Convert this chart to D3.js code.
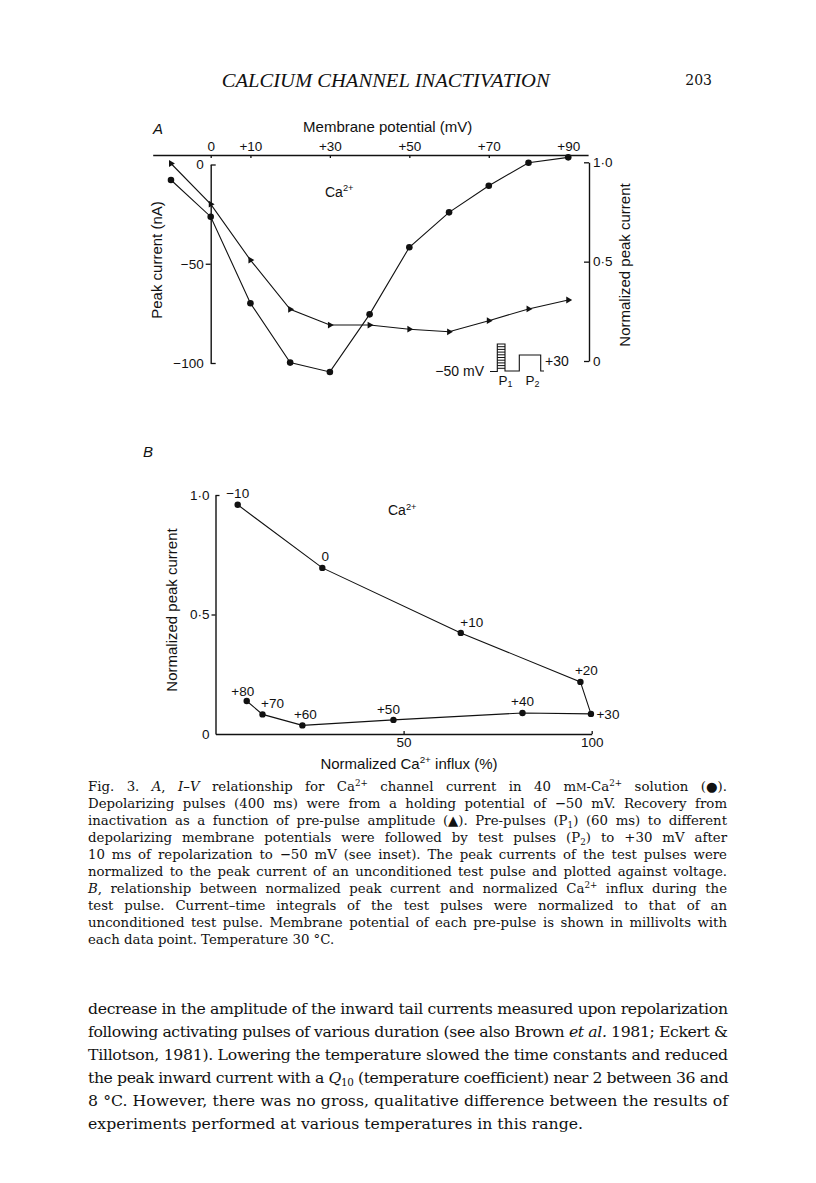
<!DOCTYPE html>
<html><head><meta charset="utf-8">
<script src="https://cdn.jsdelivr.net/npm/d3@7"></script>
<style>
html,body{margin:0;padding:0;background:#fff;}
svg{display:block;}
</style></head><body>
<script>
// ---------- Panel A data ----------
const potentials   = [-10, 0, 10, 20, 30, 40, 50, 60, 70, 80, 90];          // mV
const peakCurrent  = [-7.8, -26.3, -69.9, -99.8, -104.5, -75.5, -41.7, -24.1, -10.7, 0.9, 3.6]; // nA (circles)
const normRecovery = [0.994, 0.789, 0.508, 0.260, 0.181, 0.181, 0.160, 0.147, 0.203, 0.262, 0.307]; // triangles
const xTicksA      = [0, 10, 30, 50, 70, 90];
const yTicksLeftA  = [0, -50, -100];
const yTicksRightA = [0, 0.5, 1];
// ---------- Panel B data ----------
const prePulseLabels = ["−10", "0", "+10", "+20", "+30", "+40", "+50", "+60", "+70", "+80"];
const influxB        = [5.9, 28.4, 65.2, 97.0, 99.8, 81.6, 47.3, 23.1, 12.5, 8.3];
const normCurrentB   = [0.959, 0.695, 0.423, 0.218, 0.084, 0.088, 0.059, 0.036, 0.082, 0.138];
const xTicksB        = [50, 100];
const yTicksB        = [0, 0.5, 1];
// ---------- Text ----------
const captionLines = [
  "Fig. 3. <i>A</i>, <i>I–V</i> relationship for Ca<sup>2+</sup> channel current in 40 m<sc>M</sc>-Ca<sup>2+</sup> solution (●).",
  "Depolarizing pulses (400 ms) were from a holding potential of −50 mV. Recovery from",
  "inactivation as a function of pre-pulse amplitude (▲). Pre-pulses (P<sub>1</sub>) (60 ms) to different",
  "depolarizing membrane potentials were followed by test pulses (P<sub>2</sub>) to +30 mV after",
  "10 ms of repolarization to −50 mV (see inset). The peak currents of the test pulses were",
  "normalized to the peak current of an unconditioned test pulse and plotted against voltage.",
  "<i>B</i>, relationship between normalized peak current and normalized Ca<sup>2+</sup> influx during the",
  "test pulse. Current–time integrals of the test pulses were normalized to that of an",
  "unconditioned test pulse. Membrane potential of each pre-pulse is shown in millivolts with",
  "each data point. Temperature 30 °C."
];
const bodyLines = [
  "decrease in the amplitude of the inward tail currents measured upon repolarization",
  "following activating pulses of various duration (see also Brown <i>et al.</i> 1981; Eckert &amp;",
  "Tillotson, 1981). Lowering the temperature slowed the time constants and reduced",
  "the peak inward current with a <i>Q</i><sub>10</sub> (temperature coefficient) near 2 between 36 and",
  "8 °C. However, there was no gross, qualitative difference between the results of",
  "experiments performed at various temperatures in this range."
];

const SANS = "'Liberation Sans', Arial, sans-serif";
const SERIF = "'DejaVu Serif', serif";
const INK = "#111";

const svg = d3.select("body").append("svg").attr("width", 816).attr("height", 1183)
  .style("font-family", SANS).style("fill", INK);

function rich(textSel, str, fs) {
  const re = /<(i|sup|sub|sc)>(.*?)<\/\1>/g;
  const segs = []; let last = 0, m;
  while ((m = re.exec(str)) !== null) {
    if (m.index > last) segs.push({t: str.slice(last, m.index), type: ""});
    segs.push({t: m[2], type: m[1]});
    last = re.lastIndex;
  }
  if (last < str.length) segs.push({t: str.slice(last), type: ""});
  let shift = 0;
  segs.forEach(s => {
    const t = s.t.replace(/&amp;/g, "&");
    const ts = textSel.append("tspan").text(t);
    const target = s.type === "sup" ? -0.36 * fs : s.type === "sub" ? 0.22 * fs : 0;
    if (target !== shift) { ts.attr("dy", target - shift); shift = target; }
    if (s.type === "i") ts.style("font-style", "italic");
    if (s.type === "sup" || s.type === "sub") ts.style("font-size", (0.66 * fs) + "px");
    if (s.type === "sc") ts.style("font-size", (0.78 * fs) + "px");
  });
}

// ---------- Header ----------
svg.append("text").attr("x", 221.7).attr("y", 86.5)
  .attr("textLength", 328).attr("lengthAdjust", "spacingAndGlyphs")
  .style("font-family", "'Liberation Serif', serif").style("font-style", "italic").style("font-size", "18px")
  .text("CALCIUM CHANNEL INACTIVATION");
svg.append("text").attr("x", 712).attr("y", 85).attr("text-anchor", "end")
  .style("font-family", SERIF).style("font-size", "14px").text("203");

// ---------- Panel A ----------
const gA = svg.append("g");
const xA  = d3.scaleLinear().domain([-14.6, 95]).range([152.7, 588.1]);
const yA  = d3.scaleLinear().domain([0, -100]).range([164.5, 363]);
const yAR = d3.scaleLinear().domain([0, 1]).range([361, 162.3]);
const fmtSign = d => d > 0 ? "+" + d : String(d).replace("-", "−");
const fmtDot = d => d === 0 ? "0" : d.toFixed(1).replace(".", "·");

gA.append("text").attr("x", 153).attr("y", 133.5)
  .style("font-style", "italic").style("font-size", "15px").text("A");

gA.append("g").attr("transform", "translate(0,155)")
  .call(d3.axisTop(xA).tickValues(xTicksA).tickSizeInner(-3).tickSizeOuter(0).tickPadding(4).tickFormat(fmtSign));
gA.append("text").attr("x", 387.7).attr("y", 131.5).attr("text-anchor", "middle")
  .style("font-size", "15px").text("Membrane potential (mV)");

const axL = gA.append("g").attr("transform", `translate(${xA(0)},0)`)
  .call(d3.axisLeft(yA).tickValues(yTicksLeftA).tickSize(5).tickSizeOuter(0).tickPadding(2).tickFormat(fmtSign));
axL.selectAll(".tick line").filter(d => d !== -50).attr("x2", 5);

gA.append("g").attr("transform", "translate(589,0)")
  .call(d3.axisRight(yAR).tickValues(yTicksRightA).tickSizeInner(-5).tickSizeOuter(0).tickPadding(4).tickFormat(fmtDot));

gA.append("text").attr("transform", "translate(162,260) rotate(-90)").attr("text-anchor", "middle")
  .style("font-size", "15px").text("Peak current (nA)");
gA.append("text").attr("transform", "translate(630,265) rotate(-90)").attr("text-anchor", "middle")
  .style("font-size", "15px").text("Normalized peak current");

const caA = gA.append("text").attr("x", 325).attr("y", 196.5).style("font-size", "14px");
rich(caA, "Ca<sup>2+</sup>", 14);

const lineIV = d3.line().x((d, i) => xA(potentials[i])).y(d => yA(d));
gA.append("path").datum(peakCurrent).attr("d", lineIV).attr("fill", "none").attr("stroke", INK).attr("stroke-width", 1.1);
const lineRec = d3.line().x((d, i) => xA(potentials[i])).y(d => yAR(d));
gA.append("path").datum(normRecovery).attr("d", lineRec).attr("fill", "none").attr("stroke", INK).attr("stroke-width", 1.1);

gA.selectAll("circle.iv").data(peakCurrent).join("circle").attr("class", "iv")
  .attr("cx", (d, i) => xA(potentials[i])).attr("cy", d => yA(d)).attr("r", 3.3).attr("fill", INK);
const tri = d3.symbol().type(d3.symbolTriangle).size(20);
gA.selectAll("path.tri").data(normRecovery).join("path").attr("class", "tri")
  .attr("d", tri).attr("fill", INK)
  .attr("transform", (d, i) => `translate(${xA(potentials[i])},${yAR(d)}) rotate(90)`);

// inset (pulse protocol schematic)
const inset = gA.append("g").attr("transform", "translate(490,371.5)");
inset.append("path").attr("fill", "none").attr("stroke", INK).attr("stroke-width", 1.1)
  .attr("d", "M0,0H7.3V-27.5H15V-0.5H29.3V-16.5H50.7V-0.5H54");
inset.selectAll("line.st").data(d3.range(1, 10)).join("line").attr("class", "st")
  .attr("x1", 7.3).attr("x2", 15).attr("y1", k => -27.5 + k * 2.7).attr("y2", k => -27.5 + k * 2.7)
  .attr("stroke", INK).attr("stroke-width", 1);
inset.append("text").attr("x", -6).attr("y", 4.5).attr("text-anchor", "end").style("font-size", "14px").text("−50 mV");
inset.append("text").attr("x", 55).attr("y", -5.5).style("font-size", "14px").text("+30");
const p1 = inset.append("text").attr("x", 8.5).attr("y", 13).style("font-size", "13.5px"); rich(p1, "P<sub>1</sub>", 13.5);
const p2 = inset.append("text").attr("x", 35.5).attr("y", 13).style("font-size", "13.5px"); rich(p2, "P<sub>2</sub>", 13.5);

// ---------- Panel B ----------
const gB = svg.append("g");
const xB = d3.scaleLinear().domain([0, 100]).range([215.5, 591.7]);
const yB = d3.scaleLinear().domain([0, 1]).range([734, 495]);

gB.append("text").attr("x", 143).attr("y", 457).style("font-style", "italic").style("font-size", "15px").text("B");

gB.append("g").attr("transform", "translate(0,734)")
  .call(d3.axisBottom(xB).tickValues(xTicksB).tickSizeInner(-3).tickSizeOuter(0).tickPadding(3));
const axBL = gB.append("g").attr("transform", `translate(${xB(0)},0)`)
  .call(d3.axisLeft(yB).tickValues(yTicksB).tickSize(4).tickSizeOuter(0).tickPadding(2).tickFormat(fmtDot));
axBL.selectAll(".tick line").attr("x2", d => d === 1 ? 4 : d === 0 ? 0 : -4);

gB.append("text").attr("transform", "translate(177,610) rotate(-90)").attr("text-anchor", "middle")
  .style("font-size", "15px").text("Normalized peak current");
const xlabB = gB.append("text").attr("x", 409).attr("y", 768.5).attr("text-anchor", "middle").style("font-size", "15px");
rich(xlabB, "Normalized Ca<sup>2+</sup> influx (%)", 15);
const caB = gB.append("text").attr("x", 388).attr("y", 515).style("font-size", "14px");
rich(caB, "Ca<sup>2+</sup>", 14);

const lineB = d3.line().x((d, i) => xB(influxB[i])).y(d => yB(d));
gB.append("path").datum(normCurrentB).attr("d", lineB).attr("fill", "none").attr("stroke", INK).attr("stroke-width", 1.1);
gB.selectAll("circle.b").data(normCurrentB).join("circle").attr("class", "b")
  .attr("cx", (d, i) => xB(influxB[i])).attr("cy", d => yB(d)).attr("r", 3.2).attr("fill", INK);

// label placement relative to each point (layout only)
const labelOffset = {"−10": [0, -12], "0": [3, -12], "+10": [11, -11], "+20": [6, -12], "+30": [17, 0],
  "+40": [0, -12], "+50": [-5, -11], "+60": [3, -11], "+70": [10, -11], "+80": [-4, -10]};
gB.selectAll("text.pl").data(prePulseLabels).join("text").attr("class", "pl")
  .attr("x", (d, i) => xB(influxB[i]) + labelOffset[d][0])
  .attr("y", (d, i) => yB(normCurrentB[i]) + labelOffset[d][1] + 5)
  .attr("text-anchor", "middle").style("font-size", "13.5px").text(d => d);

// axis styling
svg.selectAll(".domain").attr("stroke", INK).attr("stroke-width", 1.4);
svg.selectAll(".tick line").attr("stroke", INK).attr("stroke-width", 1.3);
svg.selectAll(".tick text").style("font-family", SANS).style("font-size", "13.5px").attr("fill", INK);

// ---------- Caption & body text ----------
function block(lines, x0, x1, y0, dy, fs) {
  lines.forEach((ln, i) => {
    const t = svg.append("text").attr("x", x0).attr("y", y0 + i * dy)
      .style("font-family", SERIF).style("font-size", fs + "px");
    rich(t, ln, fs);
    if (i < lines.length - 1) {
      const w = t.node().getComputedTextLength();
      const txt = t.text();
      const n = (txt.match(/ /g) || []).length;
      if (w > x1 - x0) {
        t.style("letter-spacing", ((x1 - x0 - w) / (txt.length - 1)) + "px");
      } else if (n > 0) {
        t.style("word-spacing", ((x1 - x0 - w) / n) + "px");
      }
    }
  });
}
block(captionLines, 88, 727, 790.5, 17.1, 13.3);
block(bodyLines, 88, 728, 1013.5, 23, 15.7);
</script>
</body></html>
